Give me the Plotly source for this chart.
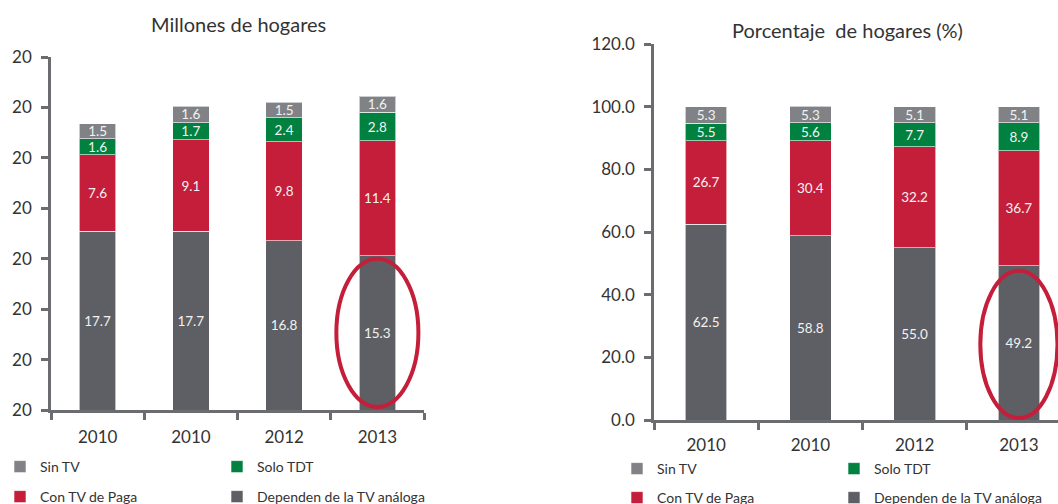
import plotly.graph_objects as go

# ---- data ----
years = ["2010", "2010", "2012", "2013"]
series_names = ["Dependen de la TV análoga", "Con TV de Paga", "Solo TDT", "Sin TV"]
colors = ["#5d5f64", "#c41e3b", "#00813f", "#808286"]

# Millones de hogares
dep_m = [17.7, 17.7, 16.8, 15.3]
paga_m = [7.6, 9.1, 9.8, 11.4]
tdt_m = [1.6, 1.7, 2.4, 2.8]
sin_m = [1.5, 1.6, 1.5, 1.6]

# Porcentaje de hogares (%)
dep_p = [62.5, 58.8, 55.0, 49.2]
paga_p = [26.7, 30.4, 32.2, 36.7]
tdt_p = [5.5, 5.6, 7.7, 8.9]
sin_p = [5.3, 5.3, 5.1, 5.1]

left_ytickvals = [0, 5, 10, 15, 20, 25, 30, 35]
left_yticktext = ["20"] * 8
right_ytickvals = [0, 20, 40, 60, 80, 100, 120]
right_yticktext = ["0.0", "20.0", "40.0", "60.0", "80.0", "100.0", "120.0"]

FONT = "Lato"
AXC = "#6b6c70"
TXT = "#333333"

xpos = list(range(len(years)))
fig = go.Figure()

left_vals = [dep_m, paga_m, tdt_m, sin_m]
right_vals = [dep_p, paga_p, tdt_p, sin_p]
# legend layout: row1 = Sin TV, Solo TDT ; row2 = Con TV de Paga, Dependen
legend_row = {"Sin TV": 0, "Solo TDT": 0, "Con TV de Paga": 1, "Dependen de la TV análoga": 1}
legend_rank = {"Sin TV": 1, "Solo TDT": 2, "Con TV de Paga": 1, "Dependen de la TV análoga": 2}

for side, vals_list, xa, ya, legs in [
    ("L", left_vals, "x", "y", ["legend", "legend2"]),
    ("R", right_vals, "x2", "y2", ["legend3", "legend4"]),
]:
    for name, vals, col in zip(series_names, vals_list, colors):
        fig.add_trace(go.Bar(
            x=xpos, y=vals, name=name, marker=dict(color=col, line=dict(color="rgba(255,255,255,0.6)", width=1)),
            width=0.39 if side == "L" else 0.40,
            text=[f"{v:.1f}" for v in vals], textposition="inside", insidetextanchor="middle",
            textangle=0, textfont=dict(color="#f2f2f2", size=13.5, family=FONT),
            xaxis=xa, yaxis=ya, legend=legs[legend_row[name]], legendrank=legend_rank[name],
            hoverinfo="skip",
        ))

W, H = 1058, 504
def px(v):
    return v / W
def py(v):
    return (H - v) / H

axis_common = dict(showline=True, linecolor=AXC, linewidth=2.5, showgrid=False, zeroline=False,
                   automargin=False, tickfont=dict(family=FONT, size=17, color=TXT))

fig.update_layout(
    width=W, height=H, margin=dict(l=0, r=0, t=0, b=0, autoexpand=False),
    plot_bgcolor="white", paper_bgcolor="white",
    barmode="stack", bargap=0.6,
    font=dict(family=FONT, color=TXT),
    uniformtext=dict(minsize=13.5, mode="show"),
    xaxis=dict(domain=[px(51), px(424)], range=[-0.5, 3.5], tickvals=xpos, ticktext=years, ticks="",
               minor=dict(tickvals=[-0.5, 0.5, 1.5, 2.5, 3.5], ticks="outside", ticklen=7, tickwidth=2.5, tickcolor=AXC),
               anchor="y", ticklabelstandoff=10, **axis_common),
    yaxis=dict(domain=[py(410), py(57)], range=[0, 35], tickvals=left_ytickvals, ticktext=left_yticktext,
               ticks="outside", ticklen=7, tickwidth=2.5, tickcolor=AXC, anchor="x", ticklabelstandoff=6,
               **axis_common),
    xaxis2=dict(domain=[px(654), 1.0], range=[-0.5, 3.375], tickvals=xpos, ticktext=years, ticks="",
                minor=dict(tickvals=[-0.5, 0.5, 1.5, 2.5, 3.5], ticks="outside", ticklen=7, tickwidth=2.5, tickcolor=AXC),
                anchor="y2", ticklabelstandoff=8, **axis_common),
    yaxis2=dict(domain=[py(420), py(44)], range=[0, 120], tickvals=right_ytickvals, ticktext=right_yticktext,
                ticks="outside", ticklen=7, tickwidth=2.5, tickcolor=AXC, anchor="x2", ticklabelstandoff=6,
                **axis_common),
)

leg_common = dict(orientation="h", entrywidthmode="pixels", entrywidth=172, font=dict(family=FONT, size=14, color=TXT),
                  bgcolor="rgba(0,0,0,0)", xanchor="left", yanchor="middle", traceorder="normal", itemclick=False)
fig.update_layout(
    legend=dict(x=px(0), y=py(467), **leg_common),
    legend2=dict(x=px(0), y=py(497), **leg_common),
    legend3=dict(x=px(617), y=py(469), **leg_common),
    legend4=dict(x=px(617), y=py(498), **leg_common),
)

fig.add_annotation(text="Millones de hogares", x=px(238), y=py(24), xref="paper", yref="paper",
                   xanchor="center", yanchor="middle",
                   showarrow=False, font=dict(family=FONT, size=20, color=TXT))
fig.add_annotation(text="Porcentaje\u00a0 de hogares (%)", x=px(847), y=py(30), xref="paper", yref="paper",
                   xanchor="center", yanchor="middle",
                   showarrow=False, font=dict(family=FONT, size=20, color=TXT))

# highlight ellipses around the 2013 "Dependen" segment
last = len(years) - 1
fig.add_shape(type="circle", xref="x", yref="y", x0=last - 0.44, x1=last + 0.44,
              y0=0.3, y1=dep_m[last] - 0.3, line=dict(color="#c41e3b", width=4))
fig.add_shape(type="circle", xref="x2", yref="y2", x0=last - 0.37, x1=last + 0.37,
              y0=0.6, y1=dep_p[last] - 1.6, line=dict(color="#c41e3b", width=4))

fig.write_html("out.html", config={"displayModeBar": False},
               post_script="document.body.style.margin='0';")
